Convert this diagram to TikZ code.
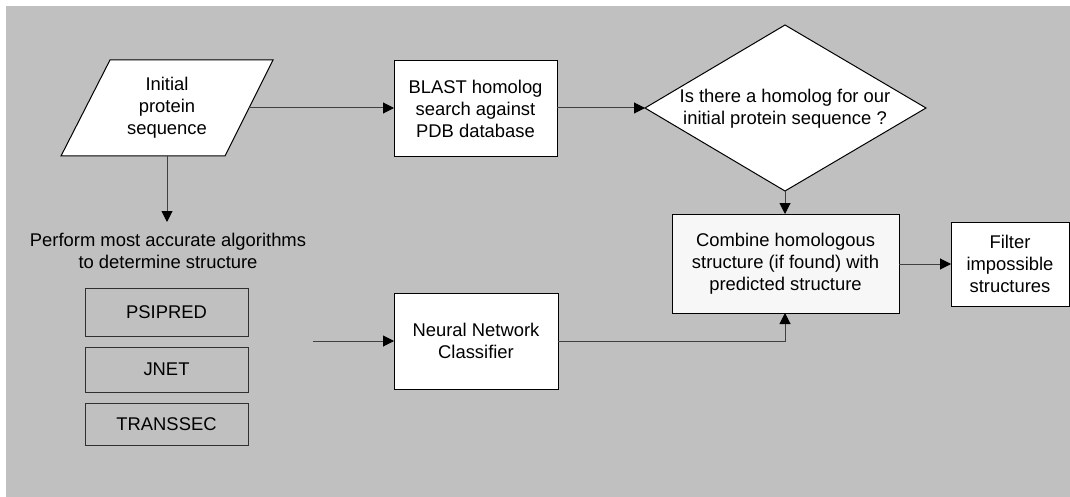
\documentclass[tikz,border=0pt]{standalone}
\usepackage{fontspec}
\setmainfont{Liberation Sans}
\usetikzlibrary{arrows.meta}
\definecolor{bg}{HTML}{C0C0C0}
\definecolor{linegray}{HTML}{404040}
\definecolor{boxedge}{HTML}{303030}
\tikzset{
  txt/.style={align=center, font=\fontsize{18.4}{22}\selectfont, text=black, inner sep=0pt},
  wbox/.style={draw=black, fill=white, line width=1pt},
  gbox/.style={draw=boxedge, fill=bg, line width=1pt},
  conn/.style={draw=linegray, line width=1pt, -{Triangle[length=11pt,width=11pt,fill=black,color=black]}},
  plain/.style={draw=linegray, line width=1pt},
}
\begin{document}
\begin{tikzpicture}[x=1pt,y=-1pt]
\useasboundingbox (0,0) rectangle (1070,497);
\fill[bg] (6,6) rectangle (1070,497);

% initial parallelogram
\draw[wbox] (110,60) -- (273,60) -- (225,156) -- (61,156) -- cycle;
\node[txt] (init) at (167,108) {Initial\\protein\\sequence};
\coordinate (initE) at (249,108);
\coordinate (initS) at (167,156);

% BLAST
\draw[wbox] (394,61) rectangle (557,157);
\node[txt] (blast) at (475.5,109) {BLAST homolog\\search against\\PDB database};
\coordinate (blastW) at (394,108);
\coordinate (blastE) at (557,108);

% diamond
\draw[wbox] (785,25) -- (926,108) -- (785,191) -- (645,108) -- cycle;
\node[txt] (dec) at (785,108.5) {Is there a homolog for our\\initial protein sequence ?};
\coordinate (decW) at (645,108);
\coordinate (decS) at (785,191);

% combine
\draw[wbox, fill=white!97!black] (672,214) rectangle (899,313);
\node[txt] (comb) at (785.5,264) {Combine homologous\\structure (if found) with\\predicted structure};
\coordinate (combN) at (785,214);
\coordinate (combS) at (785,313);
\coordinate (combE) at (899,264);

% filter
\draw[wbox] (951,222) rectangle (1069,306);
\node[txt] (filt) at (1010,264) {Filter\\impossible\\structures};
\coordinate (filtW) at (951,264);

% perform text
\node[txt] (perf) at (168,251) {Perform most accurate algorithms\\to determine structure};
\coordinate (perfN) at (167,222);

% algorithm boxes
\draw[gbox] (85,288) rectangle (248,336);
\node[txt] (psi) at (166.5,312) {PSIPRED};
\draw[gbox] (85,347) rectangle (248,392);
\node[txt] (jnet) at (166.5,369.5) {JNET};
\draw[gbox] (85,403) rectangle (248,445);
\node[txt] (trans) at (166.5,424) {TRANSSEC};

% neural network
\draw[wbox] (394,293) rectangle (558,389);
\node[txt] (nn) at (476,341) {Neural Network\\Classifier};
\coordinate (nnW) at (394,341);
\coordinate (nnE) at (558,341);
\coordinate (nnIn) at (313,341);
\coordinate (bend) at (785,341);

% connectors
\draw[conn] (initE) -- (blastW);
\draw[conn] (initS) -- (perfN);
\draw[conn] (blastE) -- (decW);
\draw[conn] (decS) -- (combN);
\draw[conn] (combE) -- (filtW);
\draw[conn] (nnIn) -- (nnW);
\draw[conn] (nnE) -- (bend) -- (combS);
\end{tikzpicture}
\end{document}
